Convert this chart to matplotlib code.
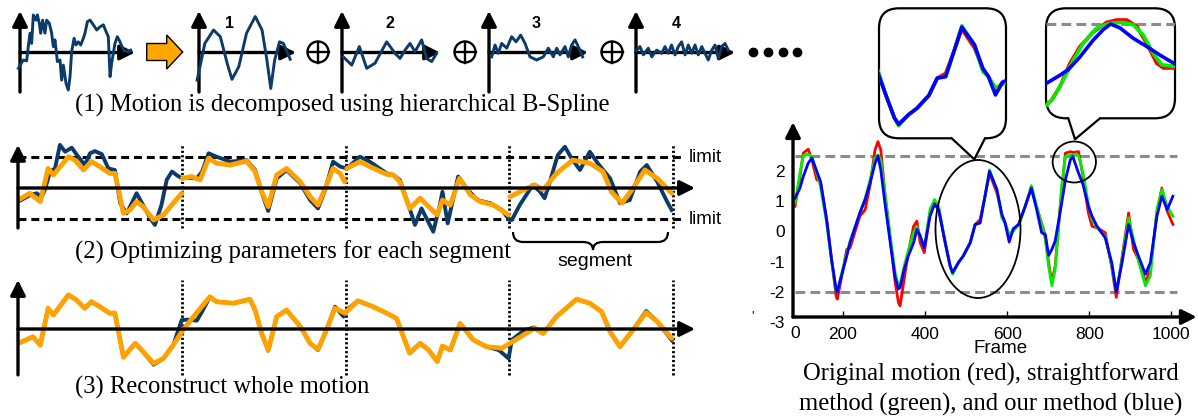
import numpy as np
import matplotlib.pyplot as plt
from matplotlib.patches import Circle, Ellipse, FancyBboxPatch, Polygon, PathPatch
from matplotlib.path import Path

plt.rcParams['font.family'] = ['Liberation Sans', 'DejaVu Sans']
SERIF = ['Liberation Serif', 'DejaVu Serif']

# ---------------- data ----------------
# (1) hierarchical B-spline decomposition: x in 0..1 along each small axis, y in -1..1
orig_x = [-0.014, 0.029, 0.058, 0.072, 0.087, 0.101, 0.116, 0.139, 0.151, 0.168, 0.180, 0.197,
          0.217, 0.232, 0.255, 0.275, 0.290, 0.304, 0.325, 0.348, 0.362, 0.377, 0.400, 0.420,
          0.435, 0.449, 0.470, 0.487, 0.507, 0.528, 0.551, 0.565, 0.586, 0.609, 0.638, 0.667,
          0.696, 0.725, 0.748, 0.768, 0.783, 0.797, 0.826, 0.846, 0.870, 0.899, 0.942, 0.962]
orig_y = [-0.40, -0.19, -0.21, 0.15, 0.49, 0.23, 0.95, 0.82, 0.95, 0.74, 0.49, 0.82,
          0.49, 0.82, 0.74, 0.49, 0.15, 0.32, -0.23, -0.19, -0.70, -0.32, -0.78, -0.95,
          -0.61, 0.02, 0.36, 0.19, 0.27, 0.19, 0.36, 0.49, 0.78, 0.82, 0.70, 0.57,
          0.65, 0.70, 0.53, 0.40, -0.61, -0.27, 0.23, 0.40, 0.27, 0.06, 0.02, 0.06]
lvl1_x = [-0.02, 0.01, 0.06, 0.15, 0.22, 0.29, 0.34, 0.41, 0.49, 0.58, 0.65, 0.70, 0.74,
          0.78, 0.83, 0.87, 0.94]
lvl1_y = [-0.70, -0.36, 0.23, 0.57, 0.40, -0.27, -0.68, -0.36, 0.49, 0.91, 0.57, -0.19, -0.91,
          -0.19, 0.27, 0.23, -0.17]
lvl2_x = [0.013, 0.099, 0.177, 0.252, 0.337, 0.456, 0.541, 0.592, 0.643, 0.694, 0.745, 0.813,
          0.864, 0.915, 0.966]
lvl2_y = [-0.11, -0.32, 0.15, -0.40, -0.27, 0.27, -0.02, -0.15, 0.06, 0.23, 0.02, 0.32,
          -0.15, -0.23, -0.02]
lvl3_x = [0.027, 0.061, 0.094, 0.128, 0.179, 0.229, 0.273, 0.320, 0.364, 0.414, 0.482, 0.549,
          0.599, 0.650, 0.684, 0.717, 0.768, 0.801, 0.835, 0.869, 0.919, 0.946]
lvl3_y = [-0.11, 0.19, -0.02, 0.23, 0.11, 0.40, 0.27, 0.44, 0.23, -0.11, -0.19, -0.11,
          0.11, -0.11, 0.11, -0.06, 0.15, -0.11, 0.19, 0.32, 0.06, -0.11]
lvl4_x = [0.007, 0.040, 0.074, 0.124, 0.159, 0.209, 0.260, 0.293, 0.326, 0.359, 0.394, 0.427,
          0.461, 0.495, 0.528, 0.563, 0.596, 0.629, 0.664, 0.697, 0.730, 0.765, 0.798, 0.831,
          0.866, 0.899, 0.932]
lvl4_y = [0.06, 0.15, -0.06, 0.11, -0.11, 0.06, -0.02, 0.15, -0.02, 0.19, -0.06, 0.15,
          0.27, -0.06, 0.19, -0.02, 0.19, -0.06, 0.15, -0.02, -0.19, 0.06, 0.19, -0.15,
          0.15, 0.23, 0.06]
panel_labels = ['1', '2', '3', '4']

# (2) original motion and per-segment optimised motion (limits at +-1)
segment_bounds = [25, 50, 75, 100]
limits = [1, -1]
navy2_t = [0.05, 1.83, 2.85, 3.6, 4.1, 4.9, 5.65, 6.4, 7.2, 8.2, 9.2, 10.2, 11.0, 11.75, 12.8,
           13.8, 14.8, 15.6, 16.6, 18.1, 19.1, 20.2, 20.9, 21.9, 22.7, 23.5, 24.2, 25.0, 25.8,
           27.3, 28.1, 29.1, 30.3, 32.4, 34.9, 36.2, 37.5, 38.2, 39.5, 41.0, 43.1, 44.6, 45.8,
           46.9, 48.1, 49.2, 50.2, 52.2, 53.7, 56.3, 57.3, 58.3, 59.8, 60.6, 61.6, 63.4, 64.4,
           64.8, 65.6, 67.2, 68.5, 70.1, 72.1, 73.9, 75.0, 75.4, 76.6, 78.6, 79.7, 80.4, 81.2,
           82.4, 83.5, 84.5, 85.8, 87.3, 88.5, 90.4, 91.9, 93.4, 95.0, 96.0, 97.6, 99.1, 99.8]
navy2_y = [-0.44, -0.23, -0.17, -0.28, -0.06, 0.53, 0.63, 1.39, 1.17, 1.30, 1.01, 0.74, 1.12,
           1.19, 1.09, 0.63, 0.58, -0.49, -0.82, -0.17, -0.55, -0.98, -1.19, -0.55, 0.26, 0.53,
           0.42, 0.31, 0.33, 0.31, 0.53, 1.12, 1.01, 0.85, 0.90, 0.58, -0.33, -0.74, 0.31, 0.58,
           0.15, -0.39, -0.66, -0.06, 0.85, 0.69, 0.63, 1.01, 0.85, 0.47, 0.42, 0.26, -0.66,
           -1.19, -0.66, -1.41, -0.55, -0.12, -1.14, 0.37, -0.01, -0.39, -0.49, -0.71, -1.03,
           -1.03, -0.55, 0.10, -0.12, -0.33, 0.20, 1.06, 1.33, 0.96, 0.58, 1.17, 0.80, 0.31,
           -0.49, -0.39, 0.53, 0.74, 0.20, -0.44, -0.71]
opt_seg_t = [[0.05, 1.8, 3.4, 4.6, 5.4, 7.7, 8.7, 10.0, 11.2, 12.5, 14.0, 14.8, 16.1, 17.1, 18.1,
              19.1, 20.7, 22.2, 23.7, 25.0],
             [25.1, 26.5, 27.8, 29.1, 30.3, 32.4, 34.9, 36.2, 37.2, 38.2, 39.5, 41.0, 43.1, 44.6,
              45.8, 46.9, 48.1, 49.2, 49.9],
             [50.2, 52.2, 53.7, 56.3, 57.3, 58.3, 59.8, 61.4, 62.7, 64.0, 64.8, 66.0, 67.4, 69.1,
              70.6, 72.6, 74.9],
             [75.1, 77.2, 78.9, 80.2, 82.2, 84.7, 87.3, 89.3, 90.6, 92.2, 93.9, 95.7, 97.6, 99.8]]
opt_seg_y = [[-0.39, -0.17, -0.44, 0.63, 0.42, 1.01, 0.90, 0.58, 0.85, 0.69, 0.47, 0.47, -0.82,
              -0.71, -0.44, -0.60, -1.03, -0.87, -0.49, -0.17],
             [0.31, 0.37, 0.26, 0.96, 0.80, 0.74, 0.87, 0.53, -0.12, -0.60, 0.42, 0.63, 0.20,
              -0.28, -0.55, -0.01, 0.63, 0.47, 0.20],
             [0.63, 0.85, 0.69, 0.44, 0.42, 0.20, -0.66, -0.33, -0.60, -0.87, -0.39, -0.55, 0.31,
              -0.23, -0.44, -0.55, -0.87],
             [-0.28, -0.06, 0.10, -0.06, 0.47, 0.90, 0.80, 0.53, -0.12, -0.49, -0.01, 0.58, 0.31,
              -0.17]]

# (3) reconstructed whole motion
rec_t = [0.05, 2.3, 3.4, 4.6, 5.4, 7.7, 8.9, 10.2, 11.2, 12.5, 14.0, 14.8, 16.1, 17.9, 19.1,
         20.7, 22.2, 23.7, 25.2, 26.8, 29.3, 30.3, 32.9, 35.4, 36.2, 37.2, 38.2, 39.5, 41.0,
         43.1, 44.6, 45.8, 47.1, 48.4, 49.9, 51.9, 54.2, 56.3, 57.8, 59.8, 61.4, 62.7, 64.0,
         64.8, 66.0, 67.5, 69.5, 71.5, 73.9, 75.1, 77.2, 78.8, 80.2, 82.2, 85.3, 87.3, 89.1,
         90.4, 91.9, 93.9, 95.9, 97.6, 99.8]
rec_y = [-0.46, -0.25, -0.52, 0.67, 0.45, 1.10, 0.94, 0.67, 0.88, 0.72, 0.51, 0.51, -0.91,
         -0.46, -0.73, -1.11, -0.95, -0.52, -0.03, 0.40, 1.04, 0.88, 0.83, 0.96, 0.61, -0.14,
         -0.68, 0.40, 0.61, 0.08, -0.46, -0.66, -0.03, 0.67, 0.51, 0.91, 0.72, 0.51, 0.34,
         -0.78, -0.46, -0.68, -1.05, -0.55, -0.68, 0.18, -0.35, -0.57, -0.62, -0.46, -0.19,
         0.02, -0.14, 0.40, 0.96, 0.83, 0.56, -0.09, -0.57, -0.03, 0.53, 0.24, -0.30]
navy3_t = [0.05, 2.3, 3.4, 4.6, 5.4, 7.7, 8.9, 10.2, 11.2, 12.5, 14.0, 14.8, 16.1, 17.9, 19.1,
           20.7, 22.2, 23.7, 25.0, 26.0, 27.3, 28.1, 29.3, 30.3, 32.9, 35.4, 36.2, 37.2, 38.2,
           39.5, 41.0, 43.1, 44.6, 45.8, 47.1, 48.4, 49.7, 50.5, 51.9, 54.2, 56.3, 57.8, 59.8,
           61.4, 62.7, 64.0, 64.8, 66.0, 67.5, 69.5, 71.5, 73.4, 74.9, 75.4, 77.2, 78.8, 80.2,
           82.2, 85.3, 87.3, 89.1, 90.4, 91.9, 93.9, 95.9, 97.6, 99.8]
navy3_y = [-0.46, -0.25, -0.52, 0.67, 0.45, 1.10, 0.94, 0.67, 0.88, 0.72, 0.51, 0.51, -0.91,
           -0.46, -0.73, -1.15, -0.95, -0.52, 0.29, 0.30, 0.27, 0.56, 1.04, 0.88, 0.83, 0.96,
           0.61, -0.14, -0.70, 0.40, 0.61, 0.08, -0.46, -0.68, -0.03, 0.72, 0.40, 0.67, 0.91,
           0.72, 0.51, 0.34, -0.78, -0.46, -0.68, -1.05, -0.55, -0.68, 0.18, -0.35, -0.57,
           -0.68, -0.95, -0.35, -0.05, 0.05, -0.14, 0.40, 0.96, 0.83, 0.56, -0.09, -0.57,
           -0.03, 0.58, 0.24, -0.36]

# right chart: frame vs value
frames = [83, 95, 103, 115, 124, 136, 145, 160, 172, 183, 186, 194, 209, 217, 241, 254, 266,
          278, 285, 292, 302, 315, 327, 335, 339, 349, 359, 372, 380, 388, 398, 412, 423, 433,
          449, 461, 467, 481, 493, 510, 522, 534, 546, 557, 575, 587, 595, 605, 615, 628, 644,
          659, 672, 684, 693, 701, 709, 717, 733, 742, 754, 760, 774, 785, 798, 807, 819, 839,
          855, 866, 880, 896, 908, 920, 937, 949, 965, 977, 990, 1004]
blue_vals = [1.10, 1.43, 1.81, 2.25, 2.42, 1.98, 1.65, 0.39, -0.92, -1.90, -1.99, -1.57, -0.81,
             -0.37, 0.61, 1.05, 1.60, 2.25, 2.49, 2.03, 0.94, -0.37, -1.52, -1.90, -1.85, -1.25,
             -0.81, -0.37, 0.07, -0.15, -0.54, 0.50, 0.91, 0.72, -0.37, -1.14, -1.36, -1.03,
             -0.81, -0.37, 0.23, 0.28, 1.16, 1.98, 1.38, 0.56, 0.28, -0.35, 0.09, 0.23, 0.83,
             1.43, 0.72, -0.04, -0.10, -0.79, -0.59, -0.32, 0.94, 1.70, 2.36, 2.47, 1.92, 1.54,
             0.83, 0.50, 0.17, -0.21, -1.03, -1.99, -1.03, 0.23, -0.37, -0.81, -1.41, -1.03,
             0.50, 1.16, 0.72, 1.16]
green_vals = [0.94, 1.92, 2.50, 2.55, 2.47, 1.92, 1.49, 0.28, -0.97, -1.96, -1.99, -1.52, -0.75,
              -0.32, 0.61, 1.10, 1.70, 2.42, 2.52, 2.36, 1.27, -0.15, -1.36, -1.79, -1.74, -1.14,
              -0.64, -0.04, 0.17, -0.15, -0.54, 0.72, 1.05, 0.83, -0.37, -1.14, -1.41, -1.03,
              -0.81, -0.37, 0.23, 0.28, 1.16, 2.03, 1.38, 0.45, 0.28, -0.10, 0.01, 0.23, 0.83,
              1.51, 0.83, 0.23, -0.26, -1.14, -1.79, -1.25, 1.49, 2.47, 2.52, 2.52, 2.50, 1.92,
              0.89, 0.39, 0.12, -0.15, -1.14, -1.99, -0.92, 0.45, -0.26, -0.97, -1.79, -1.46,
              0.72, 1.38, 0.83, 0.50]
red_vals = [0.83, 1.81, 2.58, 2.71, 2.36, 1.70, 1.65, 0.39, -0.92, -2.12, -2.23, -1.68, -0.59,
            -0.54, 0.50, 0.72, 1.54, 2.69, 2.96, 2.69, 1.27, -0.26, -1.68, -2.34, -2.45, -1.57,
            -0.70, 0.17, 0.34, -0.37, -0.70, 0.61, 0.89, 0.72, -0.37, -1.14, -1.36, -1.03,
            -0.81, -0.37, 0.23, 0.39, 1.16, 1.92, 1.27, 0.56, 0.28, -0.21, 0.07, 0.23, 0.83,
            1.43, 0.78, 0.28, -0.15, -1.03, -1.68, -1.14, 1.38, 2.58, 2.63, 2.60, 2.63, 1.81,
            0.61, 0.17, 0.12, -0.04, -1.19, -2.17, -0.86, 0.61, -0.59, -0.92, -1.68, -1.25,
            0.61, 1.43, 0.67, 0.23]
band = [2.5, -2]
x_ticks = [200, 400, 600, 800, 1000]
y_ticks = [-2, -1, 0, 1, 2]

# second zoom bubble (local x 0..100)
zoom2_x = [0.5, 4.4, 10.9, 18.6, 26.4, 36.7, 47.0, 54.8, 62.5, 70.3, 78.0, 85.8, 91.0, 100]
zoom2_red = [1.49, 1.55, 1.72, 2.01, 2.22, 2.40, 2.52, 2.55, 2.55, 2.47, 2.26, 2.01, 1.95, 1.95]
zoom2_gx = [0.5, 5.7, 13.4, 21.2, 28.9, 39.3, 49.6, 59.9, 67.7, 75.5, 83.2, 89.7, 100]
zoom2_green = [1.49, 1.57, 1.80, 2.05, 2.26, 2.45, 2.51, 2.52, 2.49, 2.36, 2.13, 1.99, 1.97]
zoom2_bx = [0.5, 10.9, 17.3, 26.4, 36.7, 44.4, 50.1, 57.4, 67.7, 78.0, 88.4, 100]
zoom2_blue = [1.76, 1.86, 1.93, 2.09, 2.30, 2.43, 2.50, 2.45, 2.32, 2.22, 2.11, 2.00]

# ---------------- figure ----------------
W, H = 1198, 416
NAVY = '#0d3b69'
ORANGE = '#ffa200'
GREEN = '#00ee00'
GREY = '#8c8c8c'

fig = plt.figure(figsize=(W / 100, H / 100), dpi=100)


def px_axes(x0, y0, x1, y1, z=1, off=True):
    ax = fig.add_axes([x0 / W, 1 - y1 / H, (x1 - x0) / W, (y1 - y0) / H], zorder=z)
    if off:
        ax.axis('off')
    return ax


def arrow(ax, x0, y0, x1, y1, lw=2.4):
    ax.annotate('', xy=(x1, y1), xytext=(x0, y0), annotation_clip=False,
                arrowprops=dict(arrowstyle='-|>,head_length=0.9,head_width=0.45', lw=lw,
                                color='k', shrinkA=0, shrinkB=0, mutation_scale=10))


ov = px_axes(0, 0, W, H, z=0)
ov.set_xlim(0, W)
ov.set_ylim(H, 0)

# ----- (1) decomposition row -----
panels = [(20, 135), (199, 296), (342, 440), (489, 588), (636, 735)]
label_x = [230, 390, 536, 676]
curves = [(orig_x, orig_y), (lvl1_x, lvl1_y), (lvl2_x, lvl2_y), (lvl3_x, lvl3_y), (lvl4_x, lvl4_y)]
for (x0, x1), (cx, cy) in zip(panels, curves):
    arrow(ov, x0, 92, x0, 11)
    arrow(ov, x0, 52.5, x1, 52.5)
    pa = px_axes(x0, 13, x1, 92, z=2)
    pa.set_xlim(0, 1)
    pa.set_ylim(-1, 1)
    pa.plot(cx, cy, color=NAVY, lw=2.1, clip_on=False, solid_joinstyle='round')

for lx, lab in zip(label_x, panel_labels):
    ov.text(lx, 23, lab, fontsize=11.5, fontweight='bold', ha='center', va='center')

for cx in (318, 465, 612):
    ov.add_patch(Circle((cx, 52), 10.5, fill=False, lw=1.7, ec='k'))
    ov.plot([cx - 10.5, cx + 10.5], [52, 52], color='k', lw=1.7)
    ov.plot([cx, cx], [41.5, 62.5], color='k', lw=1.7)

ov.plot([753, 768, 783, 797], [52] * 4, 'o', color='k', ms=6)

ov.add_patch(Polygon([(146.7, 43.5), (166.7, 43.5), (166.7, 35), (182.7, 52), (166.7, 69),
                      (166.7, 60.5), (146.7, 60.5)], closed=True, fc='#ffa600', ec='k', lw=1.0))

ov.text(75, 111.7, '(1) Motion is decomposed using hierarchical B-Spline', family=SERIF,
        fontsize=17.7, va='baseline')

# ----- (2) per-segment optimisation -----
tmax = (695 - 18) / 6.55
r2 = px_axes(18, 126, 695, 250, z=2)
r2.set_xlim(0, tmax)
r2.set_ylim(-2, 2)
r2.hlines(limits, 0, 101.6, colors='k', lw=2.2, linestyles=(0, (2.6, 1.6)))
r2.vlines(segment_bounds, -1.29, 1.39, colors='k', lw=2.0, linestyles=(0, (0.8, 0.8)))
arrow(r2, 0, 0, tmax, 0)
arrow(r2, 0, -1.29, 0, 1.39)
r2.plot(navy2_t, navy2_y, color=NAVY, lw=2.8, solid_joinstyle='round')
for st, sy in zip(opt_seg_t, opt_seg_y):
    r2.plot(st, sy, color=ORANGE, lw=3.5, solid_joinstyle='round', solid_capstyle='round')
for lv in limits:
    r2.text(102.4, lv, 'limit', fontsize=13.5, ha='left', va='center')

brace = Path([(513, 232), (513, 242), (523, 242), (583, 242), (593, 242), (593, 250),
              (593, 242), (603, 242), (658, 242), (668, 242), (668, 232)],
             [Path.MOVETO, Path.CURVE3, Path.CURVE3, Path.LINETO, Path.CURVE3, Path.CURVE3,
              Path.CURVE3, Path.CURVE3, Path.LINETO, Path.CURVE3, Path.CURVE3])
ov.add_patch(PathPatch(brace, fill=False, lw=1.6, ec='k'))
ov.text(595, 262, 'segment', fontsize=14, ha='center', va='center')
ov.text(75, 259, '(2) Optimizing parameters for each segment', family=SERIF,
        fontsize=17.7, va='baseline')

# ----- (3) reconstruction -----
r3 = px_axes(18, 267, 695, 391, z=2)
r3.set_xlim(0, tmax)
r3.set_ylim(-2, 2)
r3.vlines(segment_bounds, -1.48, 1.58, colors='k', lw=2.0, linestyles=(0, (0.8, 0.8)))
arrow(r3, 0, 0, tmax, 0)
arrow(r3, 0, -1.48, 0, 1.58)
r3.plot(navy3_t, navy3_y, color=NAVY, lw=2.8, solid_joinstyle='round')
r3.plot(rec_t, rec_y, color=ORANGE, lw=3.5, solid_joinstyle='round', solid_capstyle='round')
ov.text(75, 394, '(3) Reconstruct whole motion', family=SERIF, fontsize=17.7, va='baseline')

# ----- right chart -----
rc = px_axes(793, 122.2, 1196.7, 317, z=2, off=False)
rc.patch.set_visible(False)
for s in rc.spines.values():
    s.set_visible(False)
rc.set_xlim(78, 1062)
rc.set_ylim(-2.82, 3.6)
rc.set_xticks(x_ticks)
rc.set_yticks(y_ticks)
rc.set_xticklabels([str(v) for v in x_ticks])
rc.set_yticklabels([str(v) for v in y_ticks])
rc.tick_params(axis='x', direction='in', length=4, width=1, pad=7, labelsize=12.5)
rc.tick_params(axis='y', direction='in', length=0, pad=6, labelsize=12.5)
rc.hlines(band, frames[0], 1014, colors=GREY, lw=2.2, linestyles=(0, (3.2, 1.7)))
rc.plot(frames, red_vals, color='red', lw=2.0, solid_joinstyle='round')
rc.plot(frames, green_vals, color=GREEN, lw=2.0, solid_joinstyle='round')
rc.plot(frames, blue_vals, color='blue', lw=2.0, solid_joinstyle='round')
arrow(rc, 78, -2.82, 1062, -2.82)
arrow(rc, 78, -2.82, 78, 3.6)
rc.text(83, -3.36, '0', fontsize=12.5, ha='center', va='center')
rc.text(58, -3.05, '-3', fontsize=12.5, ha='right', va='center')
rc.text(583, -3.87, 'Frame', fontsize=13.5, ha='center', va='center')
ov.text(753, 316, "'", fontsize=9, ha='center', va='center')
ov.text(991, 381, 'Original motion (red), straightforward', family=SERIF, fontsize=17.7,
        ha='center', va='baseline')
ov.text(991, 411, 'method (green), and our method (blue)', family=SERIF, fontsize=17.7,
        ha='center', va='baseline')

# ----- zoom bubbles -----
top = px_axes(0, 0, W, H, z=3)
top.set_xlim(0, W)
top.set_ylim(H, 0)
top.add_patch(Ellipse((978, 229), 85, 138, fill=False, lw=1.3, ec='k'))
top.add_patch(Ellipse((1074.3, 162), 43.3, 41, fill=False, lw=1.3, ec='k'))
for (bx0, bx1, by1), (t0, tip, t1) in [((879, 1006, 138.3), (951.7, (974.3, 159.3), 985)),
                                       ((1046, 1175, 118.3), (1068.3, (1075, 139.3), 1100))]:
    top.add_patch(FancyBboxPatch((bx0, 8.3), bx1 - bx0, by1 - 8.3,
                                 boxstyle='round,pad=0,rounding_size=20',
                                 fc='white', ec='k', lw=1.6))
    top.add_patch(Polygon([(t0, by1 - 2), (t0, by1), tip, (t1, by1), (t1, by1 - 2)],
                          closed=True, fc='white', ec='none'))
    top.plot([t0, tip[0], t1], [by1, tip[1], by1], color='k', lw=1.6)

in1 = px_axes(879, 8.3, 1006, 138.3, z=4)
in1.set_xlim(439, 620)
in1.set_ylim(-1.84, 2.63)
in1.plot(frames, red_vals, color='red', lw=2.6, solid_joinstyle='round')
in1.plot(frames, green_vals, color=GREEN, lw=2.6, solid_joinstyle='round')
in1.plot(frames, blue_vals, color='blue', lw=2.6, solid_joinstyle='round')

in2 = px_axes(1046, 8.3, 1175, 118.3, z=4)
in2.set_xlim(0, 100)
in2.set_ylim(1.321, 2.696)
in2.axhline(band[0], color=GREY, lw=2.2, linestyle=(0, (3.2, 1.7)))
in2.plot(zoom2_x, zoom2_red, color='red', lw=2.6, solid_joinstyle='round')
in2.plot(zoom2_gx, zoom2_green, color=GREEN, lw=2.6, solid_joinstyle='round')
in2.plot(zoom2_bx, zoom2_blue, color='blue', lw=2.6, solid_joinstyle='round')

fig.savefig('out.png', dpi=100)
